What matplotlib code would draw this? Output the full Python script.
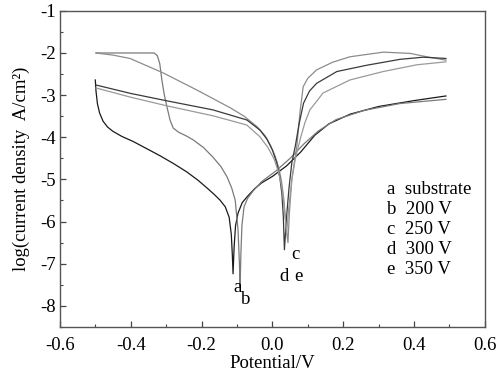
import matplotlib
matplotlib.use('Agg')
import matplotlib.pyplot as plt
import numpy as np

plt.rcParams['font.family'] = ['Liberation Serif', 'DejaVu Serif']
plt.rcParams['axes.unicode_minus'] = False

# a: substrate
a_x = [-0.500, -0.498, -0.494, -0.488, -0.478, -0.465, -0.450, -0.425, -0.393, -0.355, -0.317, -0.280,
       -0.242, -0.210, -0.185, -0.165, -0.148, -0.133, -0.122, -0.116, -0.113, -0.111,
       -0.108, -0.104, -0.097, -0.085, -0.070, -0.050, -0.030, 0.000, 0.040, 0.080, 0.120,
       0.160, 0.220, 0.300, 0.400, 0.490]
a_y = [-2.64, -2.90, -3.20, -3.42, -3.62, -3.76, -3.86, -3.98, -4.10, -4.27, -4.44, -4.62,
       -4.82, -5.02, -5.20, -5.35, -5.49, -5.65, -5.90, -6.30, -6.80, -7.24,
       -6.60, -6.10, -5.80, -5.55, -5.40, -5.22, -5.08, -4.93, -4.68, -4.35, -3.95,
       -3.68, -3.45, -3.27, -3.13, -3.02]

# b: 200 V
b_x = [-0.498, -0.400, -0.334, -0.325, -0.318, -0.312, -0.305, -0.297, -0.289, -0.280, -0.265, -0.245,
       -0.224, -0.195, -0.168, -0.145, -0.128, -0.115, -0.105, -0.097, -0.093, -0.091,
       -0.089, -0.086, -0.080, -0.070, -0.055, -0.030, 0.010, 0.050,
       0.090, 0.130, 0.180, 0.260, 0.360, 0.490]
b_y = [-2.00, -2.00, -2.00, -2.06, -2.25, -2.64, -3.00, -3.30, -3.59, -3.78, -3.88, -3.96,
       -4.06, -4.24, -4.47, -4.70, -4.94, -5.20, -5.49, -6.20, -7.00, -7.55,
       -6.80, -6.10, -5.65, -5.45, -5.28, -5.05, -4.80, -4.50,
       -4.15, -3.85, -3.58, -3.36, -3.20, -3.10]

# c: 250 V
c_x = [-0.498, -0.450, -0.402, -0.309, -0.213, -0.119, -0.080, -0.043, -0.020, -0.005, 0.008, 0.018,
       0.026, 0.032, 0.037, 0.041, 0.044, 0.048, 0.055, 0.062, 0.069, 0.078, 0.087, 0.100,
       0.125, 0.170, 0.219, 0.313, 0.389, 0.436, 0.490]
c_y = [-2.00, -2.05, -2.13, -2.47, -2.88, -3.30, -3.50, -3.75, -3.97, -4.20, -4.45, -4.72,
       -5.05, -5.45, -5.95, -6.30, -6.50, -5.80, -5.00, -4.60, -4.22, -3.40, -2.80, -2.60,
       -2.40, -2.22, -2.09, -1.98, -2.01, -2.09, -2.17]

# d: 300 V
d_x = [-0.498, -0.400, -0.295, -0.168, -0.072, -0.035, -0.015, 0.000, 0.012, 0.021, 0.027, 0.031,
       0.034, 0.040, 0.047, 0.055, 0.065, 0.075, 0.088, 0.105, 0.125, 0.182, 0.267, 0.361,
       0.426, 0.490]
d_y = [-2.76, -2.96, -3.14, -3.35, -3.59, -3.83, -4.05, -4.30, -4.60, -4.95, -5.35, -5.90,
       -6.67, -5.90, -5.20, -4.60, -4.20, -3.70, -3.19, -2.90, -2.72, -2.44, -2.29, -2.15,
       -2.10, -2.13]

# e: 350 V
e_x = [-0.498, -0.400, -0.295, -0.168, -0.072, -0.035, -0.012, 0.005, 0.017, 0.026, 0.032, 0.037,
       0.040, 0.046, 0.055, 0.065, 0.080, 0.092, 0.106, 0.143, 0.219, 0.313, 0.408, 0.490]
e_y = [-2.83, -3.05, -3.26, -3.49, -3.71, -3.99, -4.25, -4.52, -4.82, -5.15, -5.55, -5.95,
       -6.30, -5.70, -5.00, -4.50, -4.00, -3.65, -3.35, -2.95, -2.64, -2.44, -2.28, -2.21]

curves = [(a_x, a_y, '#1a1a1a'), (b_x, b_y, '#7a7a7a'), (c_x, c_y, '#8c8c8c'),
          (d_x, d_y, '#3a3a3a'), (e_x, e_y, '#9a9a9a')]

curve_labels = ['a', 'b', 'c', 'd', 'e']
label_pos = [(-0.099, -7.56), (-0.074, -7.86), (0.064, -6.79), (0.034, -7.30), (0.073, -7.30)]
legend_lines = ['a  substrate', 'b  200 V', 'c  250 V', 'd  300 V', 'e  350 V']

fig = plt.figure(figsize=(5.03, 3.74), dpi=100)
ax = fig.add_axes([0.119, 0.126, 0.845, 0.845])

for x, y, col in curves:
    ax.plot(x, y, color=col, lw=0.9)

for lab, (lx, ly) in zip(curve_labels, label_pos):
    ax.text(lx, ly, lab, fontsize=13.5, ha='center', va='center')

for i, t in enumerate(legend_lines):
    ax.text(0.323, -5.23 - 0.475 * i, t, fontsize=13.5, ha='left', va='center')

ax.set_xlim(-0.6, 0.6)
ax.set_ylim(-8.5, -1)
ax.set_xticks(np.arange(-0.6, 0.61, 0.2))
ax.set_xticklabels(['-0.6', '-0.4', '-0.2', '0.0', '0.2', '0.4', '0.6'])
ax.set_xticks(np.arange(-0.5, 0.6, 0.2), minor=True)
ax.set_yticks(np.arange(-8, -0.5, 1))
ax.set_yticklabels(['-8', '-7', '-6', '-5', '-4', '-3', '-2', '-1'])
ax.set_yticks(np.arange(-8.5, -1, 1), minor=True)
ax.tick_params(which='both', direction='in', labelsize=13.5, color='#444444')
ax.tick_params(which='major', length=4, width=0.9)
ax.tick_params(which='minor', length=2, width=0.8)
ax.tick_params(axis='x', pad=7)
ax.tick_params(axis='y', pad=3)
for s in ax.spines.values():
    s.set_color('#555555')
    s.set_linewidth(1.0)

ax.set_xlabel('Potential/V', fontsize=13.5, labelpad=1)
ax.set_ylabel('log(current density  A/cm²)', fontsize=13.5, labelpad=7)

fig.savefig('out.png', dpi=100)
